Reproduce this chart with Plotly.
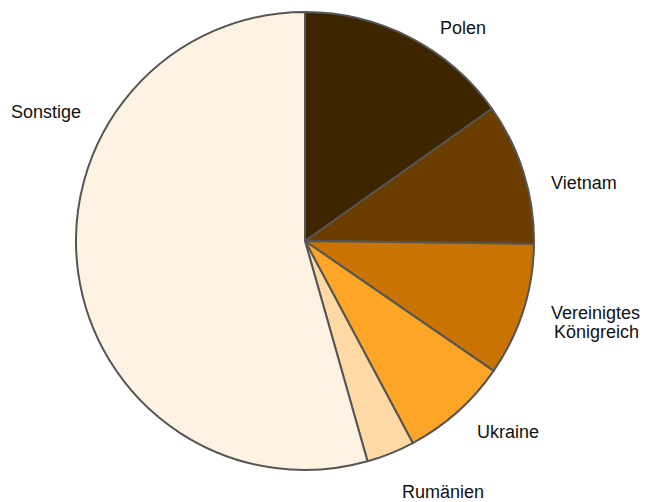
import plotly.graph_objects as go

W, H = 648, 502
OFF = 8  # page body margin in the browser

labels = ["Polen", "Vietnam", "Vereinigtes<br>Königreich", "Ukraine", "Rumänien", "Sonstige"]
values = [15.2, 10.0, 9.4, 7.6, 3.4, 54.4]
colors = ["#3d2500", "#6b3e00", "#c97400", "#fca526", "#fed9a4", "#fef3e2"]

# label anchor positions (page pixels, centre of each text line)
label_px = [[(463, 28)], [(584, 183)], [(595, 313), (596, 332)], [(508, 432)], [(443, 492)], [(46, 112)]]

cx, cy, r = 305, 241, 229

fig = go.Figure(go.Pie(
    labels=labels,
    values=values,
    sort=False,
    direction="clockwise",
    rotation=0,
    marker=dict(colors=colors, line=dict(color="#555555", width=2)),
    textinfo="none",
    hoverinfo="label+percent",
    domain=dict(x=[(cx - r - OFF) / W, (cx + r - OFF) / W],
                y=[1 - (cy + r - OFF) / H, 1 - (cy - r - OFF) / H]),
    showlegend=False,
))

for lab, pts in zip(labels, label_px):
    lines = lab.split("<br>")
    for line, (px, py) in zip(lines, pts):
        fig.add_annotation(
            x=(px - OFF) / W, y=1 - (py - OFF) / H, xref="paper", yref="paper",
            text=line, showarrow=False, xanchor="center", yanchor="middle",
            font=dict(family="Liberation Sans, Arial, sans-serif", size=18, color="#111111"),
        )

fig.update_layout(
    width=W, height=H,
    margin=dict(l=0, r=0, t=0, b=0),
    paper_bgcolor="white",
    plot_bgcolor="white",
)

fig.write_html("out.html")
